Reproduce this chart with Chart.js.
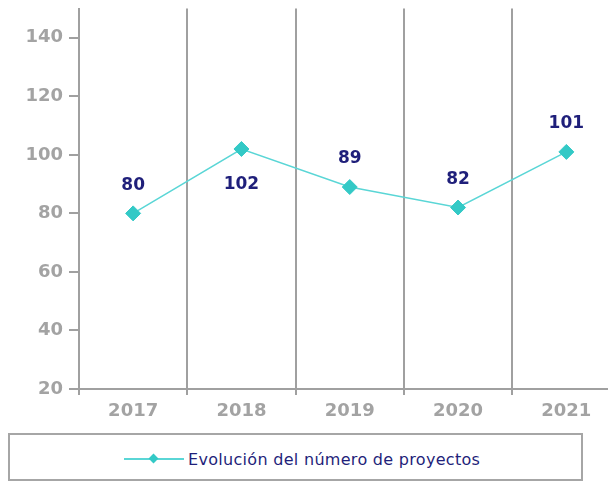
<!DOCTYPE html>
<html>
<head>
<meta charset="utf-8">
<script src="https://cdn.jsdelivr.net/npm/chart.js@4"></script>
<style>
  html, body { margin: 0; padding: 0; background: #fff; overflow: hidden; width: 608px; height: 483px; }
  #chart { position: absolute; left: 0; top: 0; }
  .legend-box {
    position: absolute; left: 8px; top: 433px; width: 571px; height: 44px;
    border: 2px solid #a6a6a6; font-family: "DejaVu Sans", sans-serif;
  }
  .legend-item { position: absolute; left: 114px; top: 15px; height: 18px; display: flex; align-items: center; }
  .legend-mark { position: relative; width: 60px; height: 16px; margin-right: 4px; }
  .legend-mark .ln { position: absolute; left: 0; right: 0; top: 7px; height: 2px; background: #5ad6d6; }
  .legend-mark .dm { position: absolute; left: 26px; top: 4px; width: 7px; height: 7px; background: #33c9c6; transform: rotate(45deg); }
  .legend-text { font-size: 16px; color: #1f1f7a; letter-spacing: 0.3px; }
</style>
</head>
<body>
<canvas id="chart" width="629" height="430"></canvas>
<div class="legend-box">
  <div class="legend-item">
    <div class="legend-mark"><div class="ln"></div><div class="dm"></div></div>
    <span class="legend-text" id="legend-text"></span>
  </div>
</div>
<script>
// Chart data
const years = ['2017', '2018', '2019', '2020', '2021'];
const projects = [80, 102, 89, 82, 101];
const labelSide = ['above', 'below', 'above', 'above', 'above'];
const seriesName = 'Evolución del número de proyectos';
const yTicks = [20, 40, 60, 80, 100, 120, 140];

document.getElementById('legend-text').textContent = seriesName;

const tickGray = '#a3a3a3';
const axisGray = '#a0a0a0';
const fontFam = '"DejaVu Sans", sans-serif';

// Value labels over/under each point
const valueLabels = {
  id: 'valueLabels',
  afterDatasetsDraw(chart) {
    const ctx = chart.ctx;
    const meta = chart.getDatasetMeta(0);
    ctx.save();
    ctx.font = 'bold 17px ' + fontFam;
    ctx.fillStyle = '#1f1f7a';
    ctx.textAlign = 'center';
    ctx.textBaseline = 'middle';
    meta.data.forEach((pt, i) => {
      const dy = labelSide[i] === 'below' ? 36 : -28;
      ctx.fillText(String(projects[i]), pt.x, pt.y + dy);
    });
    ctx.restore();
  }
};

// drop the automatic label padding so the plot fills the canvas edges
function noPad(scale) {
  scale.paddingTop = 0;
  scale.paddingBottom = 0;
  scale.paddingLeft = 0;
  scale.paddingRight = 0;
}

new Chart(document.getElementById('chart'), {
  type: 'line',
  data: {
    labels: years,
    datasets: [{
      label: seriesName,
      data: projects,
      borderColor: '#5ad6d6',
      borderWidth: 1.5,
      pointStyle: 'rectRot',
      pointRadius: 7.5,
      pointBackgroundColor: '#33c9c6',
      pointBorderColor: '#33c9c6',
      pointBorderWidth: 1,
      tension: 0
    }]
  },
  options: {
    responsive: false,
    animation: false,
    layout: { padding: { top: 8, right: 0, left: 0, bottom: 0 } },
    plugins: { legend: { display: false }, tooltip: { enabled: false } },
    scales: {
      x: {
        offset: true,
        grid: { offset: true, color: axisGray, lineWidth: 2, tickLength: 6, drawOnChartArea: true },
        border: { color: axisGray, width: 2 },
        ticks: { color: tickGray, padding: 6, font: { size: 18, weight: 'bold', family: fontFam } },
        afterFit(scale) { scale.height = 41; noPad(scale); }
      },
      y: {
        min: 20,
        max: 150,
        afterBuildTicks(scale) { scale.ticks = yTicks.map(v => ({ value: v })); },
        grid: { drawOnChartArea: false, color: axisGray, lineWidth: 2, tickLength: 10 },
        border: { color: axisGray, width: 2 },
        ticks: { color: tickGray, padding: 6, font: { size: 18, weight: 'bold', family: fontFam } },
        afterFit(scale) { scale.width = 79; noPad(scale); }
      }
    }
  },
  plugins: [valueLabels]
});
</script>
</body>
</html>
